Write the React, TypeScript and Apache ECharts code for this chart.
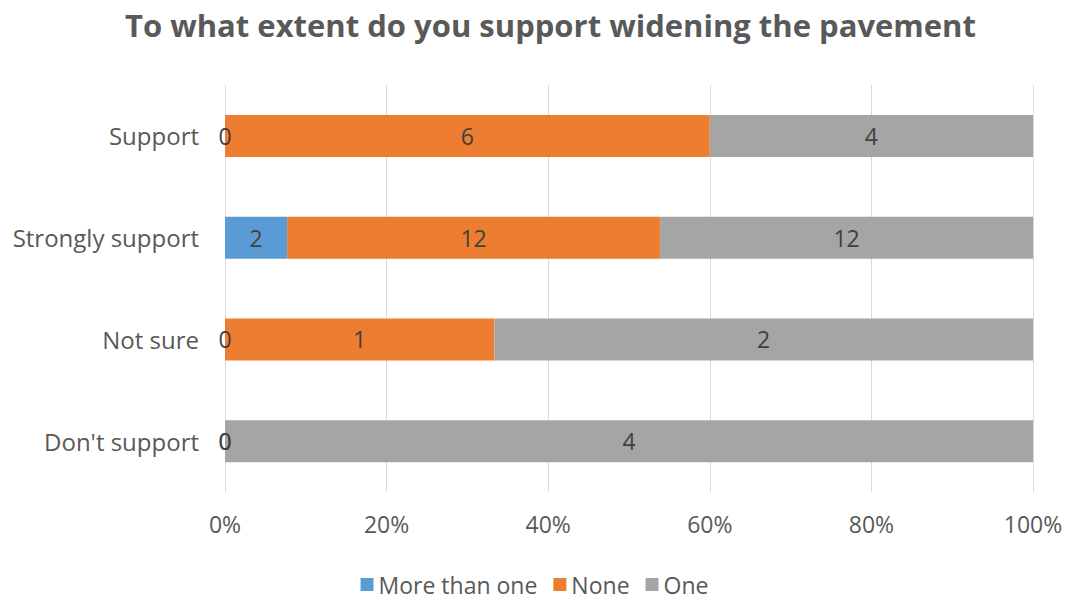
import React, { useEffect, useRef } from "react";
import * as echarts from "echarts";

const categories = ["Don't support", "Not sure", "Strongly support", "Support"];
const moreThanOne = [0, 0, 2, 0];
const none = [0, 1, 12, 6];
const one = [4, 2, 12, 4];
const seriesNames = ["More than one", "None", "One"];
const colors = ["#5B9BD5", "#ED7D31", "#A5A5A5"];

const FONT = "Open Sans";

export default function App() {
  const ref = useRef<HTMLDivElement>(null);
  useEffect(() => {
    if (!ref.current) return;
    const chart = echarts.init(ref.current, undefined, { renderer: "svg" });
    const totals = categories.map((_, i) => moreThanOne[i] + none[i] + one[i]);
    const raw = [moreThanOne, none, one];
    const series = raw.map((arr, si) => ({
      name: seriesNames[si],
      type: "bar",
      stack: "total",
      barWidth: 42,
      itemStyle: { color: colors[si] },
      label: {
        show: true,
        position: "inside",
        color: "#404040",
        fontFamily: FONT,
        fontSize: 23,
        formatter: (p: any) => String(arr[p.dataIndex]),
      },
      data: arr.map((v, i) => (v / totals[i]) * 100),
    }));
    chart.setOption({
      animation: false,
      textStyle: { fontFamily: FONT },
      title: {
        text: "To what extent do you support widening the pavement",
        left: 120,
        top: 4,
        textStyle: { fontFamily: FONT, fontSize: 31, fontWeight: "bold", color: "#595959" },
      },
      legend: {
        bottom: 0,
        left: "center",
        itemWidth: 13,
        itemHeight: 13,
        itemGap: 16,
        icon: "rect",
        textStyle: { fontFamily: FONT, fontSize: 23, color: "#595959" },
        data: seriesNames,
      },
      grid: { left: 225, right: 36, top: 85, bottom: 109, containLabel: false },
      xAxis: {
        type: "value",
        min: 0,
        max: 100,
        interval: 20,
        axisLine: { show: false },
        axisTick: { show: false },
        splitLine: { lineStyle: { color: "#D9D9D9" } },
        axisLabel: {
          formatter: "{value}%",
          fontFamily: FONT,
          fontSize: 23,
          color: "#595959",
          margin: 20,
        },
      },
      yAxis: {
        type: "category",
        data: categories,
        axisLine: { show: false },
        axisTick: { show: false },
        axisLabel: { fontFamily: FONT, fontSize: 24, color: "#595959", margin: 26 },
      },
      series,
    });
    return () => chart.dispose();
  }, []);
  return <div ref={ref} style={{ width: 1069, height: 601, position: "absolute", left: 0, top: 0, background: "#fff" }} />;
}
